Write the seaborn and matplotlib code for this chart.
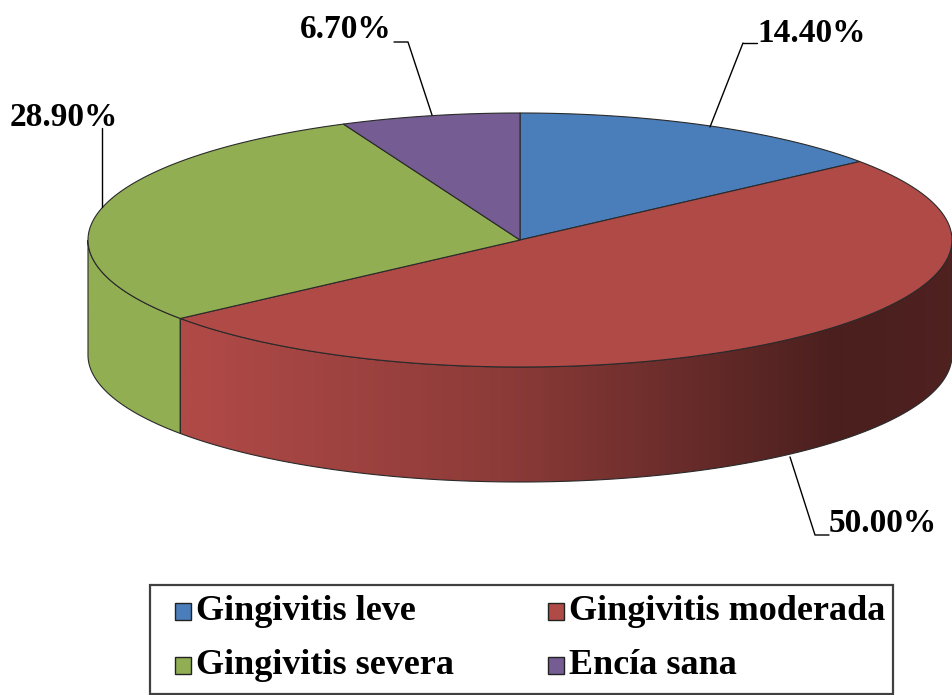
import numpy as np
import matplotlib
matplotlib.use('Agg')
import matplotlib.pyplot as plt
import seaborn as sns
from matplotlib.patches import Polygon, Rectangle

# datos del gráfico
categories = ['Gingivitis leve', 'Gingivitis moderada', 'Gingivitis severa', 'Encía sana']
values = [14.4, 50.0, 28.9, 6.7]
labels = ['14.40%', '50.00%', '28.90%', '6.70%']
colors = ['#4A7EBB', '#B04A47', '#91AF52', '#755C92']

sns.set_theme(style='white')
plt.rcParams['font.family'] = ['Liberation Serif', 'DejaVu Serif']

fig = plt.figure(figsize=(9.53, 6.95), dpi=100)
ax = fig.add_axes([0, 0, 1, 1])
ax.set_xlim(0, 953)
ax.set_ylim(695, 0)
ax.axis('off')

# geometría del pastel 3D (en píxeles)
cx, cy, rx, ry, depth = 520, 240, 432, 127, 115


def arc(t1, t2, dy=0, n=120):
    t = np.radians(np.linspace(t1, t2, n))
    return np.column_stack([cx + rx * np.cos(t), cy - ry * np.sin(t) + dy])


def shade(x):
    return np.interp(x, [88, 190, 500, 840, 953], [1.0, 1.0, 0.80, 0.42, 0.45])


total = sum(values)
bounds = [90.0]
for v in values:
    bounds.append(bounds[-1] - v / total * 360)

# caras laterales
xs = np.linspace(cx - rx, cx + rx, 400)
for i in range(len(values)):
    t_start, t_end = bounds[i], bounds[i + 1]
    for k in (0, -360):
        lo = max(t_end, -180 + k)
        hi = min(t_start, 0 + k)
        if hi <= lo:
            continue
        top = arc(lo, hi)
        bot = arc(hi, lo, dy=depth)
        poly = Polygon(np.vstack([top, bot]), closed=True, facecolor='none',
                       edgecolor='none')
        ax.add_patch(poly)
        base = np.array(matplotlib.colors.to_rgb(colors[i]))
        grad = np.clip(base[None, :] * shade(xs)[:, None], 0, 1)[None, :, :]
        im = ax.imshow(grad, extent=(cx - rx, cx + rx, cy + ry + depth + 2, cy - ry),
                       aspect='auto', interpolation='bilinear', zorder=1)
        im.set_clip_path(poly)
        ax.add_patch(Polygon(np.vstack([top, bot]), closed=True, facecolor='none',
                             edgecolor='#2a2a2a', linewidth=0.8, zorder=2))

# cara superior
for i in range(len(values)):
    pts = np.vstack([[cx, cy], arc(bounds[i], bounds[i + 1])])
    ax.add_patch(Polygon(pts, closed=True, facecolor=colors[i],
                         edgecolor='#2a2a2a', linewidth=0.8, zorder=3))

# etiquetas con líneas guía
lab_font = dict(fontsize=24, fontweight='bold', color='black')
ax.plot([743, 757], [43, 43], color='black', lw=1, zorder=4)
ax.plot([743, 710], [43, 127], color='black', lw=1, zorder=4)
ax.text(757, 34, labels[0], ha='left', va='center', **lab_font)

ax.plot([790, 815, 829], [457, 535, 535], color='black', lw=1, zorder=4)
ax.text(829, 524, labels[1], ha='left', va='center', **lab_font)

ax.plot([102, 102], [128, 207], color='black', lw=1, zorder=4)
ax.text(10, 118, labels[2], ha='left', va='center', **lab_font)

ax.plot([394, 408, 432], [42, 42, 115], color='black', lw=1, zorder=4)
ax.text(392, 30, labels[3], ha='right', va='center', **lab_font)

# leyenda
ax.add_patch(Rectangle((150, 585), 743, 109, facecolor='white',
                       edgecolor='#404040', linewidth=1.6, zorder=5))
col_x = [175, 548]
row_y = [611, 665]
for i, cat in enumerate(categories):
    x = col_x[i % 2]
    y = row_y[i // 2]
    ax.add_patch(Rectangle((x, y - 8), 16, 17, facecolor=colors[i],
                           edgecolor='#222222', linewidth=1, zorder=6))
    ax.text(x + 21, y, cat, ha='left', va='center', fontsize=26,
            fontweight='bold', color='black', zorder=6)

fig.savefig('out.png', dpi=100)
